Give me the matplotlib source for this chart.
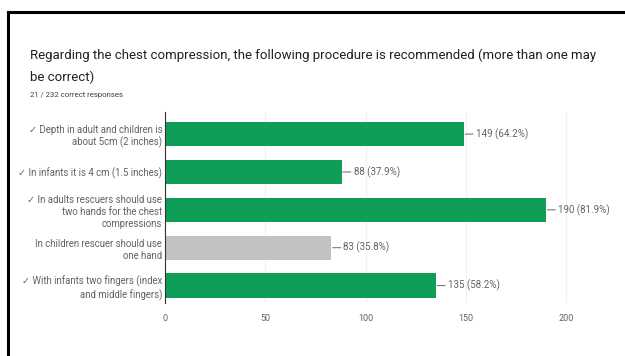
import matplotlib.pyplot as plt
from matplotlib.lines import Line2D

plt.rcParams['font.family'] = ['Roboto', 'DejaVu Sans']

labels = [
    "✓ Depth in adult and children is\nabout 5cm (2 inches)",
    "✓ In infants it is 4 cm (1.5 inches)",
    "✓ In adults rescuers should use\ntwo hands for the chest\ncompressions",
    "In children rescuer should use\none hand",
    "✓ With infants two fingers (index\nand middle fingers)",
]
counts = [149, 88, 190, 83, 135]
correct = [True, True, True, False, True]
total = 232
xticks = [0, 50, 100, 150, 200]

GREEN = "#109d58"
GREY = "#c2c2c2"

fig = plt.figure(figsize=(6.25, 3.56), dpi=100)
fig.patch.set_facecolor("white")

# frame lines along the top and left of the card
fig.add_artist(Line2D([0.0128, 1.0], [0.966, 0.966], color="black", lw=2.2))
fig.add_artist(Line2D([0.0128, 0.0128], [0.0, 0.966], color="black", lw=2.2))

fig.text(0.048, 0.845,
         "Regarding the chest compression, the following procedure is recommended (more than one may",
         fontsize=9.5, color="#202124", va="center")
fig.text(0.048, 0.783, "be correct)", fontsize=9.5, color="#202124", va="center")
fig.text(0.048, 0.733, "21 / 232 correct responses", fontsize=5.6, color="#3c4043", va="center")

ax = fig.add_axes([0.264, 0.149, 0.690, 0.536])
ys = list(range(len(counts)))
colors = [GREEN if c else GREY for c in correct]
ax.barh(ys, counts, height=0.64, color=colors, zorder=3)

for y, v in zip(ys, counts):
    ax.annotate(f"{v} ({v / total * 100:.1f}%)", xy=(v, y), xytext=(12, 0),
                textcoords="offset pixels", va="center", ha="left",
                fontsize=7.0, color="#5f6368",
                arrowprops=dict(arrowstyle="-", color="#777777", lw=0.8,
                                shrinkA=0, shrinkB=1))

ax.set_xlim(0, 215)
ax.set_ylim(4.46, -0.58)
ax.set_xticks(xticks)
ax.set_yticks(ys)
ax.set_yticklabels(labels, fontsize=6.9, color="#5f6368", linespacing=1.25)
ax.tick_params(axis="y", length=0, pad=2)
ax.tick_params(axis="x", length=0, pad=8, labelsize=6.5, labelcolor="#5f6368")
ax.grid(axis="x", color="#f0f0f0", lw=0.8, zorder=0)
for side in ["top", "right", "bottom"]:
    ax.spines[side].set_visible(False)
ax.spines["left"].set_color("#333333")
ax.spines["left"].set_linewidth(0.8)
ax.spines["left"].set_zorder(4)

fig.savefig("out.png", dpi=100, facecolor="white")
